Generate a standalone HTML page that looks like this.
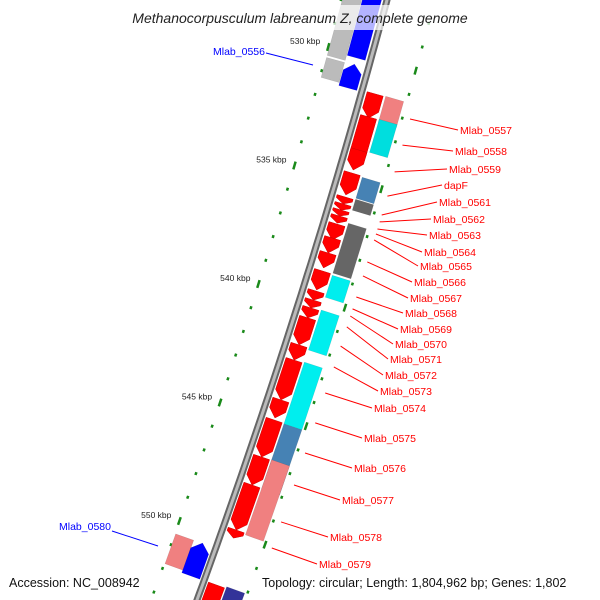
<!DOCTYPE html>
<html><head><meta charset="utf-8"><style>
html,body{margin:0;padding:0;background:#fff;overflow:hidden}
body{position:relative;width:600px;height:600px}
svg{display:block;font-family:"Liberation Sans",sans-serif}
</style></head><body>
<svg id="c" width="600" height="600" viewBox="0 0 600 600" style="position:absolute;left:0;top:0"></svg>
<script>
// gene data (kbp)
const geneStarts=[531.98,532.95,534.35,535.32,536.33,536.62,536.88,537.13,537.47,538.06,538.69,539.45,540.30,540.68,541.01,541.43,542.57,543.21,544.89,545.74,547.30,548.48,550.38,552.70];
const geneEnds  =[533.00,534.89,535.19,536.24,536.62,536.88,537.13,537.43,538.14,538.69,539.32,540.25,540.68,541.01,541.43,542.57,543.21,544.89,545.65,547.30,548.48,550.38,550.72,553.90];
const cogStarts=[532.19,533.16,535.61,536.54,537.55,539.75,541.22,543.42,546.03,547.55,552.91];
const cogEnds  =[533.29,534.56,536.50,537.00,539.66,540.68,542.91,546.03,548.78,550.72,553.90];
const cogColors=["#f08080","#00dede","#4682b4","#666666","#666666","#00eeee","#00eeee","#00eeee","#4682b4","#f08080","#333399"];
const revStarts=[527.4,527.4,530.55,530.72,550.68,550.93];
const revEnds  =[530.46,530.46,531.39,531.73,551.94,552.32];
const revColors=["#bbbbbb","#0000ff","#bbbbbb","#0000ff","#f08080","#0000ff"];
const revLanes =["outer","inner","outer","inner","outer","inner"];
const labelNames=["Mlab_0557","Mlab_0558","Mlab_0559","dapF","Mlab_0561","Mlab_0562","Mlab_0563","Mlab_0564","Mlab_0565","Mlab_0566","Mlab_0567","Mlab_0568","Mlab_0569","Mlab_0570","Mlab_0571","Mlab_0572","Mlab_0573","Mlab_0574","Mlab_0575","Mlab_0576","Mlab_0577","Mlab_0578","Mlab_0579"];
const labelAnchorKb=[533.04,534.14,535.27,536.29,537.09,537.38,537.68,537.89,538.14,539.07,539.66,540.55,541.05,541.35,541.81,542.62,543.50,544.60,545.86,547.13,548.48,550.04,551.14];
const tickKb=[528,529,530,531,532,533,534,535,536,537,538,539,540,541,542,543,544,545,546,547,548,549,550,551,552,553];
const tickLabels=["530 kbp","535 kbp","540 kbp","545 kbp","550 kbp"];
const tickLabelKb=[530,535,540,545,550];

const NS="http://www.w3.org/2000/svg";
const svg=document.getElementById('c');
function mk(t,a,p){const e=document.createElementNS(NS,t);for(const k in a)e.setAttribute(k,a[k]);(p||svg).appendChild(e);return e;}
function ky(kb){return 47+(kb-530)*23.7;}
function bx(y){return 387-0.2675*y-8.19e-5*y*y;}
function slope(y){return -0.2675-2*8.19e-5*y;}
// horizontal offset o, with end tilt relative to lane centre oc
function pt(kb,o,oc){const y=ky(kb);const s=slope(y);return [bx(y)+o, y-(o-oc)*s];}
function P(a){return a.map(p=>p[0].toFixed(1)+","+p[1].toFixed(1)).join(" ");}
function arrow(s,e,o1,o2,dir){
  const len=ky(e)-ky(s);const head=Math.min(8,len*0.6)/23.7;const om=(o1+o2)/2;
  if(dir>0) return [pt(s,o1,om),pt(s,o2,om),pt(e-head,o2,om),pt(e,om,om),pt(e-head,o1,om)];
  return [pt(e,o1,om),pt(e,o2,om),pt(s+head,o2,om),pt(s,om,om),pt(s+head,o1,om)];
}
function box(s,e,o1,o2){const om=(o1+o2)/2;return [pt(s,o1,om),pt(s,o2,om),pt(e,o2,om),pt(e,o1,om)];}

const bb=[];for(let y=-5;y<=605;y+=10)bb.push([bx(y),y]);
const bbo=mk('polyline',{points:P(bb),fill:'none',stroke:'#666',"stroke-width":7});


const bbi=mk('polyline',{points:P(bb),fill:'none',stroke:'#bbb',"stroke-width":3});



function dash(kb,o,len){
  const y=ky(kb);const s=slope(y);const n=Math.sqrt(1+s*s);
  const x=bx(y)+o;const dx=len/2*(-s)/n*-1,dy=len/2/n;
  return {x1:x-s*len/2/n,y1:y-dy,x2:x+s*len/2/n,y2:y+dy};
}
tickKb.forEach((k,i)=>{
  const major=(k%5===0);
  const a=dash(k,-46,major?8:3);
  const l=mk('line',Object.assign(a,{stroke:'#1a8a1a',"stroke-width":2.5}));
  
  
  const kr=k+1;const majR=(kr%5===1);
  const b=dash(kr,48,majR?8:3);
  const r=mk('line',Object.assign(b,{stroke:'#1a8a1a',"stroke-width":2.5}));
  
  
});
tickLabels.forEach((t,i)=>{
  const y=ky(tickLabelKb[i]);
  const e=mk('text',{x:bx(y)-54,y:y-3,"text-anchor":"end","font-size":8.5,fill:'#222'});
  e.textContent=t;
  
  
});

revStarts.forEach((s,i)=>{
  const o=revLanes[i]==="inner"?[-24,-6]:[-44,-26];
  const isArrow=(i===3||i===5);
  const pts=isArrow?arrow(s,revEnds[i],o[0],o[1],-1):box(s,revEnds[i],o[0],o[1]);
  const e=mk('polygon',{points:P(pts),fill:revColors[i],stroke:'rgba(0,0,0,0.15)',"stroke-width":0.5});
  
  
});
geneStarts.forEach((s,i)=>{
  const e=mk('polygon',{points:P(arrow(s,geneEnds[i],6,22,1)),fill:'#ff0000',stroke:'#c00',"stroke-width":0.5});
  
  
});
cogStarts.forEach((s,i)=>{
  const e=mk('polygon',{points:P(box(s,cogEnds[i],26,44)),fill:cogColors[i],stroke:'rgba(0,0,0,0.15)',"stroke-width":0.5});
  
  
});

const labelY=[130,151,169,185,202,219,235,252,266,282,298,313,329,344,359,375,391,408,438,468,500,537,564];
const labelX=[460,455,449,444,439,433,429,424,420,414,410,405,400,395,390,385,380,374,364,354,342,330,319];
labelNames.forEach((n,i)=>{
  const y=ky(labelAnchorKb[i]);const ax=bx(y)+56;
  const l=mk('line',{x1:ax,y1:y,x2:labelX[i]-2,y2:labelY[i],stroke:'#ff0000',"stroke-width":1});
  
  
  const t=mk('text',{x:labelX[i],y:labelY[i]+4,"font-size":10.5,fill:'#ff0000'});
  t.textContent=n;
  
  
});
</script>
<svg width="600" height="600" style="position:absolute;left:0;top:0">
<line x1="266" y1="53" x2="313" y2="65" stroke="#0000ff" stroke-width="1"/>
<text x="213" y="55" font-size="10.5" fill="#0000ff" font-family="Liberation Sans, sans-serif">Mlab_0556</text>
<line x1="112" y1="531" x2="158" y2="546" stroke="#0000ff" stroke-width="1"/>
<text x="59" y="530" font-size="10.5" fill="#0000ff" font-family="Liberation Sans, sans-serif">Mlab_0580</text>
<rect x="110" y="5" width="380" height="25" fill="rgba(255,255,255,0.7)"/>
<text x="300" y="23" text-anchor="middle" font-size="14" font-style="italic" fill="#222" font-family="Liberation Sans, sans-serif">Methanocorpusculum labreanum Z, complete genome</text>
<text x="9" y="587" font-size="12.5" fill="#111" font-family="Liberation Sans, sans-serif">Accession: NC_008942</text>
<text x="262" y="587" font-size="12.5" fill="#111" font-family="Liberation Sans, sans-serif">Topology: circular; Length: 1,804,962 bp; Genes: 1,802</text>
</svg>
</body></html>
